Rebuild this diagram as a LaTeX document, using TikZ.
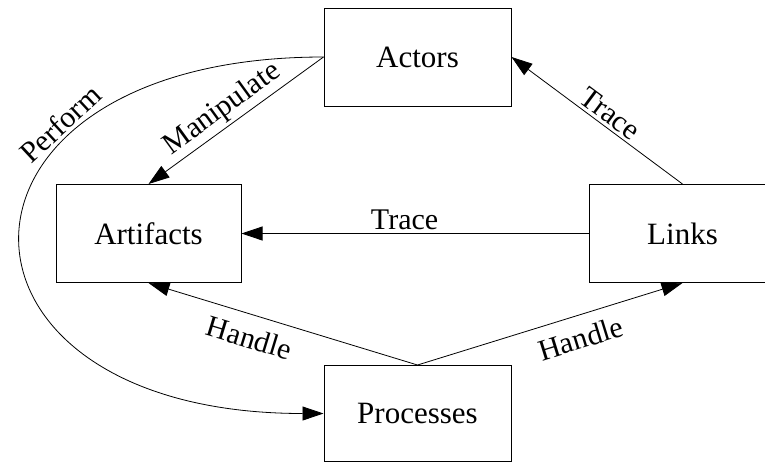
\documentclass[tikz,border=0pt]{standalone}
\usepackage{fontspec}
\setmainfont{Liberation Serif}
\usetikzlibrary{arrows.meta}

\tikzset{
    box/.style={draw, line width=1pt, minimum width=187pt, minimum height=98pt,
        inner sep=0pt, font=\fontsize{31}{37}\selectfont},
    link/.style={line width=0.8pt, -{Triangle[length=21pt,width=14pt]}},
    lbl/.style={sloped, inner sep=3pt, font=\fontsize{30}{36}\selectfont}
}

\begin{document}
\begin{tikzpicture}[x=1pt,y=-1pt]
        \clip (0,0) rectangle (765,464);
        \node[box] (actors) at (417.5,57) {Actors};
        \node[box, minimum width=185pt] (artifacts) at (148.5,233.5) {Artifacts};
        \node[box] (links) at (682.5,233.5) {Links};
        \node[box, minimum height=96pt] (processes) at (417.5,413.5) {Processes};

        \draw[link] (actors.west) -- node[lbl, above, pos=0.52] {Manipulate} (artifacts.north);
        \draw[link] (links.north) -- node[lbl, above, pos=0.47] {Trace} (actors.east);
        \draw[link] (links.west) -- node[lbl, above, pos=0.53] {Trace} (artifacts.east);
        \draw[link] (processes.north) -- node[lbl, below=9pt, pos=0.6] {Handle} (artifacts.south);
        \draw[link] (processes.north) -- node[lbl, below=9pt, pos=0.59] {Handle} (links.south);
        \draw[link] (actors.west) .. controls +(-403,0) and +(-403,0) ..
            node[lbl, above, pos=0.3] {Perform} (processes.west);
    \end{tikzpicture}
\end{document}
